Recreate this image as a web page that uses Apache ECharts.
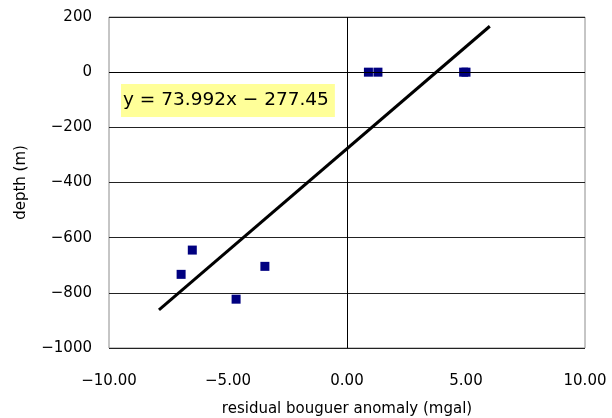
<!DOCTYPE html>
<html>
<head>
<meta charset="utf-8">
<script src="https://cdn.jsdelivr.net/npm/echarts@6/dist/echarts.min.js"></script>
<style>
  html, body { margin: 0; padding: 0; background: #fff; }
  #chart { width: 612px; height: 418px; }
</style>
</head>
<body>
<div id="chart"></div>
<script>
// anomaly (mgal) vs depth (m)
let anomaly = [0.9, 1.3, 4.9, 5.0, -6.5, -6.97, -3.45, -4.66];
let depth = [0, 0, 0, 0, -645, -733, -704, -823];

// trendline from the fitted equation, drawn over this x range
let slope = 73.992;
let intercept = -277.45;
let trendRange = [-7.9, 6.0];

let xTicks = [-10, -5, 0, 5, 10];
let yTicks = [200, 0, -200, -400, -600, -800, -1000];

let font = '"DejaVu Sans", sans-serif';

function fixMinus(s) {
    return String(s).replace('-', '\u2212');
}

function buildChart() {
    let chart = echarts.init(document.getElementById('chart'), null, { renderer: 'canvas' });

    let points = anomaly.map(function (x, i) { return [x, depth[i]]; });
    let trend = trendRange.map(function (x) { return [x, slope * x + intercept]; });

    let option = {
        animation: false,
        backgroundColor: '#fff',
        grid: {
            left: 109, right: 27, top: 17, bottom: 70,
            outerBoundsMode: 'none',
            containLabel: false,
            show: true,
            borderColor: '#8c8c8c',
            borderWidth: 1
        },
        xAxis: {
            type: 'value',
            min: xTicks[0], max: xTicks[xTicks.length - 1], interval: 5,
            name: 'residual bouguer anomaly (mgal)',
            nameLocation: 'middle',
            nameGap: 54,
            nameTextStyle: { fontFamily: font, fontSize: 15, color: '#000' },
            axisLine: { show: false },
            axisTick: { show: false },
            splitLine: { show: false },
            axisLabel: {
                fontFamily: font, fontSize: 15, color: '#000', margin: 26,
                formatter: function (v) { return fixMinus(v.toFixed(2)); }
            }
        },
        yAxis: {
            type: 'value',
            min: yTicks[yTicks.length - 1], max: yTicks[0], interval: 200,
            name: 'depth (m)',
            nameLocation: 'middle',
            nameGap: 80,
            nameTextStyle: { fontFamily: font, fontSize: 15, color: '#000' },
            axisLine: { show: false },
            axisTick: { show: false },
            splitLine: { show: true, lineStyle: { color: '#222', width: 1 } },
            axisLabel: {
                fontFamily: font, fontSize: 15, color: '#000', margin: 17,
                formatter: function (v) { return fixMinus(v); }
            }
        },
        series: [
            {
                type: 'line',
                data: trend,
                showSymbol: false,
                lineStyle: { color: '#000', width: 3 },
                markLine: {
                    silent: true,
                    symbol: 'none',
                    label: { show: false },
                    lineStyle: { color: '#000', width: 1, type: 'solid' },
                    data: [{ xAxis: 0 }, { yAxis: 0 }]
                },
                z: 3
            },
            {
                type: 'scatter',
                data: points,
                symbol: 'rect',
                symbolSize: 9,
                itemStyle: { color: '#000080', opacity: 1 },
                z: 4
            }
        ],
        graphic: [{
            type: 'text',
            left: 121,
            top: 84,
            z: 10,
            style: {
                text: 'y = 73.992x \u2212 277.45',
                font: '18.5px ' + font,
                fill: '#000',
                backgroundColor: '#ffff99',
                padding: [7, 6, 7, 2]
            }
        }]
    };
    chart.setOption(option);
}

buildChart();
</script>
</body>
</html>
